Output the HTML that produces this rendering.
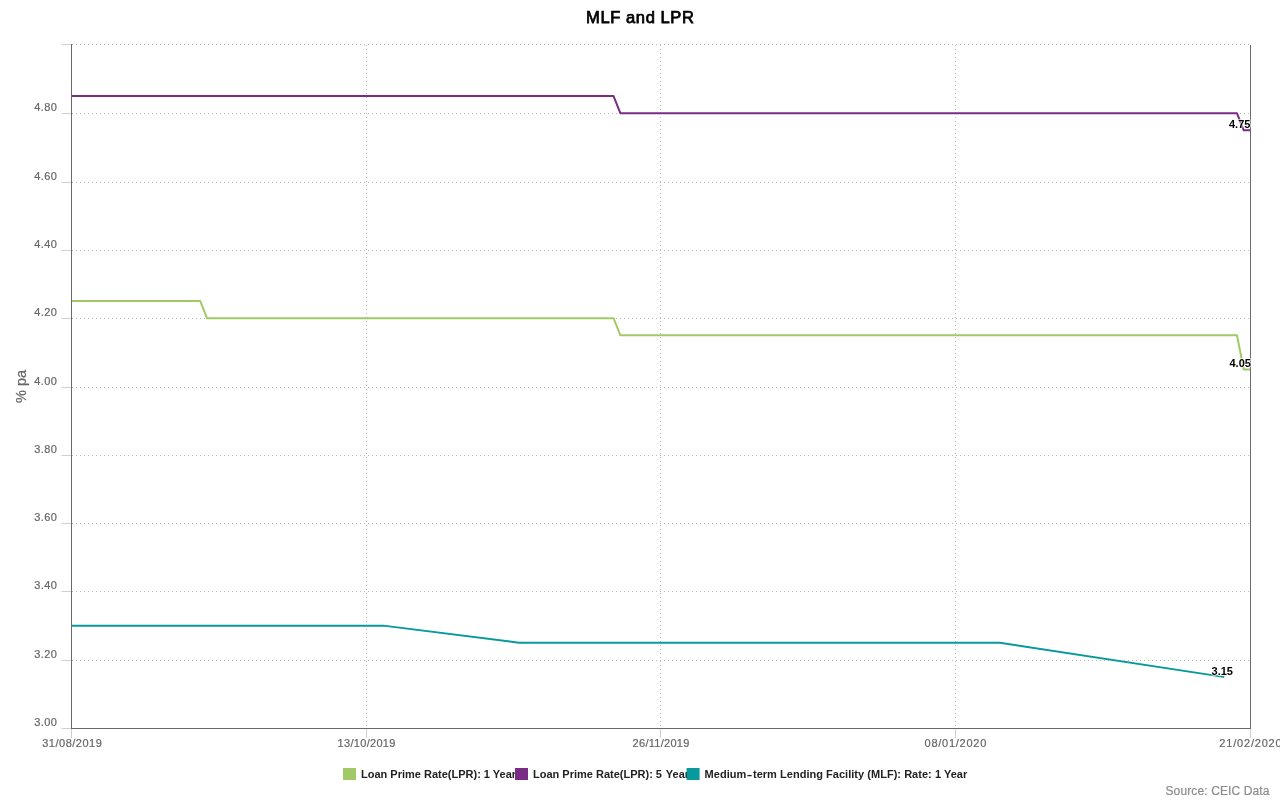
<!DOCTYPE html>
<html><head><meta charset="utf-8"><title>MLF and LPR</title>
<style>
html,body{margin:0;padding:0;background:#fff;overflow:hidden}
svg{display:block}
text{font-family:"Liberation Sans",Arial,Helvetica,sans-serif}
.g{stroke:#bbb;stroke-width:1;stroke-dasharray:1 3;fill:none}
.t{stroke:#d0d0d0;stroke-width:1}
.ax{stroke:#6a6a6a;stroke-width:1}
.s{fill:none;stroke-width:2;stroke-linejoin:round;stroke-linecap:round}
.yl{font-size:11px;fill:#666;stroke:#666;stroke-width:0.2px;text-anchor:end;letter-spacing:0.45px}
.xl{font-size:11px;fill:#666;stroke:#666;stroke-width:0.2px;text-anchor:middle;letter-spacing:0.55px}
.yt{font-size:14.5px;fill:#666;stroke:#666;stroke-width:0.25px;text-anchor:middle}
.dl{font-size:11px;font-weight:bold;fill:#000;text-anchor:middle;stroke:rgba(255,255,255,0.65);stroke-width:2px;paint-order:stroke;stroke-linejoin:round}
.title{font-size:16.5px;fill:#000;stroke:#000;stroke-width:0.75px;letter-spacing:0.6px;text-anchor:middle}
.lg{font-size:11px;font-weight:bold;fill:#222;letter-spacing:0.08px}
.src{font-size:12px;fill:#8c8c8c;stroke:#8c8c8c;stroke-width:0.2px;text-anchor:end;letter-spacing:0.12px}
</style></head>
<body>
<svg width="1280" height="800" viewBox="0 0 1280 800">
<defs><clipPath id="pc"><rect x="71" y="44" width="1180" height="685"/></clipPath></defs>
<rect width="1280" height="800" fill="#fff"/>
<line x1="72" y1="44.5" x2="1250" y2="44.5" class="g"/>
<line x1="72" y1="113.5" x2="1250" y2="113.5" class="g"/>
<line x1="72" y1="182.5" x2="1250" y2="182.5" class="g"/>
<line x1="72" y1="250.5" x2="1250" y2="250.5" class="g"/>
<line x1="72" y1="318.5" x2="1250" y2="318.5" class="g"/>
<line x1="72" y1="387.5" x2="1250" y2="387.5" class="g"/>
<line x1="72" y1="455.5" x2="1250" y2="455.5" class="g"/>
<line x1="72" y1="523.5" x2="1250" y2="523.5" class="g"/>
<line x1="72" y1="591.5" x2="1250" y2="591.5" class="g"/>
<line x1="72" y1="660.5" x2="1250" y2="660.5" class="g"/>
<line x1="366.5" y1="45" x2="366.5" y2="728" class="g"/>
<line x1="660.5" y1="45" x2="660.5" y2="728" class="g"/>
<line x1="955.5" y1="45" x2="955.5" y2="728" class="g"/>
<line x1="61.5" y1="44.5" x2="71" y2="44.5" class="t"/>
<line x1="61.5" y1="113.5" x2="71" y2="113.5" class="t"/>
<line x1="61.5" y1="182.5" x2="71" y2="182.5" class="t"/>
<line x1="61.5" y1="250.5" x2="71" y2="250.5" class="t"/>
<line x1="61.5" y1="318.5" x2="71" y2="318.5" class="t"/>
<line x1="61.5" y1="387.5" x2="71" y2="387.5" class="t"/>
<line x1="61.5" y1="455.5" x2="71" y2="455.5" class="t"/>
<line x1="61.5" y1="523.5" x2="71" y2="523.5" class="t"/>
<line x1="61.5" y1="591.5" x2="71" y2="591.5" class="t"/>
<line x1="61.5" y1="660.5" x2="71" y2="660.5" class="t"/>
<line x1="61.5" y1="728.5" x2="71" y2="728.5" class="t"/>
<line x1="71.5" y1="729" x2="71.5" y2="738" class="t"/>
<line x1="366.5" y1="729" x2="366.5" y2="738" class="t"/>
<line x1="660.5" y1="729" x2="660.5" y2="738" class="t"/>
<line x1="955.5" y1="729" x2="955.5" y2="738" class="t"/>
<line x1="1250.5" y1="729" x2="1250.5" y2="738" class="t"/>
<g clip-path="url(#pc)">
<path d="M64.72 625.63 L383.19 625.63 L518.71 642.71 L999.79 642.71 L1223.40 676.87" stroke="#07999c" class="s"/>
<path d="M64.72 96.12 L613.57 96.12 L620.34 113.20 L1236.95 113.20 L1243.72 130.28 L1257.28 130.28" stroke="#7a2b86" class="s"/>
<path d="M64.72 301.09 L200.24 301.09 L207.02 318.17 L613.57 318.17 L620.34 335.25 L1236.95 335.25 L1243.72 369.41 L1257.28 369.41" stroke="#a1ca66" class="s"/>
</g>
<line x1="71.5" y1="44" x2="71.5" y2="729" class="ax"/>
<line x1="1250.5" y1="45" x2="1250.5" y2="729" class="ax"/>
<line x1="71" y1="728.5" x2="1251" y2="728.5" class="ax"/>
<text x="57.35" y="111" class="yl">4.80</text>
<text x="57.35" y="180" class="yl">4.60</text>
<text x="57.35" y="248" class="yl">4.40</text>
<text x="57.35" y="316" class="yl">4.20</text>
<text x="57.35" y="385" class="yl">4.00</text>
<text x="57.35" y="453" class="yl">3.80</text>
<text x="57.35" y="521" class="yl">3.60</text>
<text x="57.35" y="589" class="yl">3.40</text>
<text x="57.35" y="658" class="yl">3.20</text>
<text x="57.35" y="726" class="yl">3.00</text>
<text x="72.25" y="747" class="xl" style="letter-spacing:0.5px">31/08/2019</text>
<text x="366.655" y="747" class="xl" style="letter-spacing:0.31px">13/10/2019</text>
<text x="661.14" y="747" class="xl" style="letter-spacing:0.28px">26/11/2019</text>
<text x="955.82" y="747" class="xl" style="letter-spacing:0.74px">08/01/2020</text>
<text x="1250.9" y="747" class="xl" style="letter-spacing:0.8px">21/02/2020</text>
<text transform="translate(26.3 386.5) rotate(-90)" class="yt">% pa</text>
<text x="1239.7" y="127.8" class="dl">4.75</text>
<text x="1240.2" y="366.8" class="dl">4.05</text>
<text x="1222.3" y="675" class="dl">3.15</text>
<text x="640.3" y="22.8" class="title">MLF and LPR</text>
<text x="361" y="777.8" class="lg" style="letter-spacing:0.0px">Loan Prime Rate(LPR): 1 Year</text>
<rect x="343" y="768" width="13" height="12" fill="#a1ca66"/>
<text x="533" y="777.8" class="lg" style="letter-spacing:0.0px">Loan Prime Rate(LPR): 5<tspan dx="1"> </tspan>Year</text>
<rect x="515" y="768" width="13" height="12" fill="#7a2b86"/>
<text x="704.6" y="777.8" class="lg" style="letter-spacing:0.03px">Medium<tspan dx="0.5" textLength="5.6" lengthAdjust="spacingAndGlyphs">-</tspan><tspan dx="0.5">term</tspan> Lending Facility (MLF): Rate: 1 Year</text>
<rect x="686.6" y="768" width="13" height="12" fill="#07999c"/>
<text x="1269.6" y="795" class="src">Source: CEIC Data</text>
</svg>
</body></html>
